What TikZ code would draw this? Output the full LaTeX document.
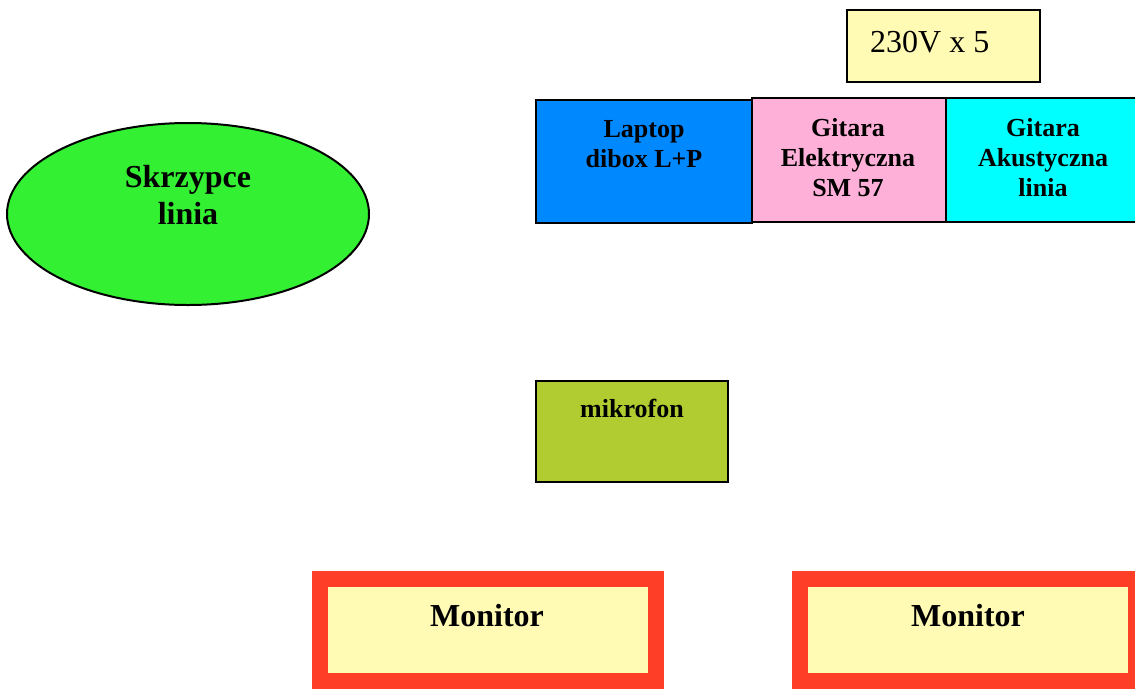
\documentclass[tikz,border=0pt]{standalone}
\usepackage{fontspec}
\setmainfont{Liberation Serif}
\definecolor{lapblue}{RGB}{0,136,255}
\definecolor{elpink}{RGB}{255,176,216}
\definecolor{akcyan}{RGB}{0,255,255}
\definecolor{voltyellow}{RGB}{255,250,180}
\definecolor{skgreen}{RGB}{51,240,51}
\definecolor{mikolive}{RGB}{176,204,48}
\definecolor{monred}{RGB}{255,62,40}
\begin{document}
\begin{tikzpicture}[x=1pt, y=-1pt,
  box/.style={draw, line width=2pt, rectangle, inner sep=0pt, outer sep=0pt, anchor=north west},
  lbl/.style={font=\bfseries\fontsize{26}{30}\selectfont, align=center, anchor=base, inner sep=0pt},
  big/.style={font=\bfseries\fontsize{32}{37}\selectfont, align=center, anchor=base, inner sep=0pt},
  mon/.style={draw=monred, fill=voltyellow, line width=16pt, rectangle, inner sep=0pt,
    anchor=north west, minimum width=336pt, minimum height=102pt}]
  \useasboundingbox (0,0) rectangle (1135,689);
  \clip (0,0) rectangle (1135,689);
  % zasilanie
  \node[box, fill=voltyellow, minimum width=193pt, minimum height=72pt] (volt) at (847,10) {};
  \node[font=\fontsize{32}{36}\selectfont, anchor=base west, inner sep=0pt] (volttxt) at (870,52) {230V x 5};
  % instrumenty
  \node[box, fill=lapblue, minimum width=216pt, minimum height=123pt] (laptop) at (536,100) {};
  \node[box, fill=elpink, minimum width=194pt, minimum height=124pt] (elektr) at (752,98) {};
  \node[box, fill=akcyan, minimum width=212pt, minimum height=124pt] (akust) at (946,98) {};
  \node[lbl] (laptoptxt) at (644,167) {Laptop\\dibox L+P};
  \node[lbl] (elektrtxt) at (848,196) {Gitara\\Elektryczna\\SM 57};
  \node[lbl] (akusttxt) at (1043,196) {Gitara\\Akustyczna\\linia};
  % skrzypce
  \draw[line width=2pt, fill=skgreen] (188,214) ellipse (181 and 91);
  \coordinate (skrz) at (188,214);
  \node[big] (skrztxt) at (188,224) {Skrzypce\\linia};
  % mikrofon
  \node[box, fill=mikolive, minimum width=192pt, minimum height=101pt] (mik) at (536,381) {};
  \node[lbl] (miktxt) at (632,417) {mikrofon};
  % odsluchy
  \node[mon] (monl) at (312,571) {};
  \node[mon] (monr) at (792,571) {};
  \node[big] (monltxt) at (487,626) {Monitor};
  \node[big] (monrtxt) at (968,626) {Monitor};
\end{tikzpicture}
\end{document}
